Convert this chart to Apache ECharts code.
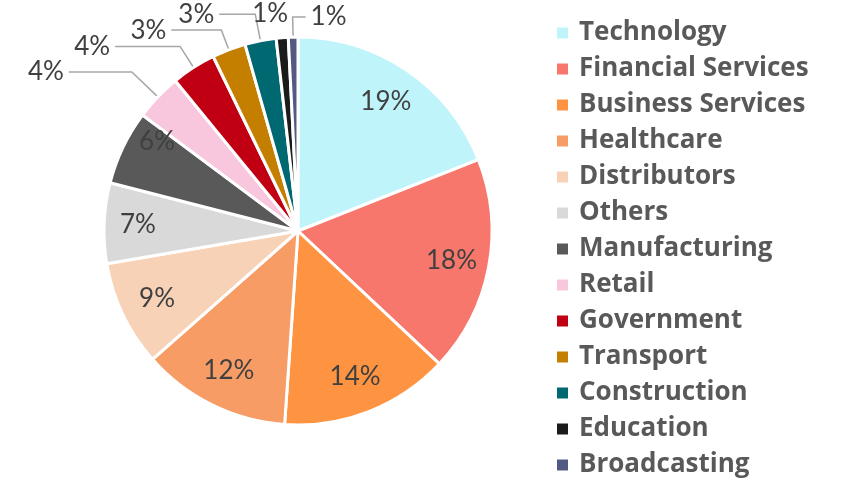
<!DOCTYPE html>
<html><head><meta charset="utf-8">
<script src="https://cdn.jsdelivr.net/npm/echarts@6/dist/echarts.min.js"></script>
<style>html,body{margin:0;padding:0;background:#fff}#c{width:841px;height:480px}</style>
</head><body><div id="c"></div>
<script>
const categories = ['Technology','Financial Services','Business Services','Healthcare','Distributors','Others','Manufacturing','Retail','Government','Transport','Construction','Education','Broadcasting'];
const values = [19.0,18.0,14.1,12.4,8.8,6.7,6.2,3.9,3.7,2.8,2.6,1.0,0.8];
const colors = ['#BFF4FB','#F7776C','#FE9442','#F79C64','#F7D2B6','#D9D9D9','#595959','#F8C6DD','#C00012','#C47F00','#006870','#1B1B1B','#525A84'];
const insideCount = 7;
// leader line lengths for the outside labels (Retail .. Broadcasting)
const lineLen1 = [36,25,21,27,24,20];
const lineLen2 = [63,65,50,36,0,13];

const chart = echarts.init(document.getElementById('c'), null, {renderer:'canvas'});
const R = 194;
const cx = 298, cy = 231;
const fmt = p => Math.round(p.percent) + '%';
const mainData = categories.map((n,i)=>{
  const o = {name:n, value:values[i], itemStyle:{color:colors[i]}};
  if (i < insideCount) { o.label = {show:false}; o.labelLine = {show:false}; }
  else {
    const k = i - insideCount;
    o.label = {show:true};
    o.labelLine = {show: n !== 'Education', length: lineLen1[k], length2: lineLen2[k]};
  }
  return o;
});
const labelData = categories.map((n,i)=>({
  name:n, value:values[i],
  itemStyle:{color:'rgba(0,0,0,0)'},
  label:{show: i < insideCount}
}));
chart.setOption({
  animation:false,
  legend:{
    orient:'vertical', left:555, top:20, padding:0,
    icon:'rect', itemWidth:13, itemHeight:13, itemGap:10,
    data:categories,
    selectedMode:false,
    textStyle:{fontFamily:'Open Sans', fontWeight:'bold', fontSize:26, color:'#595959', lineHeight:26, padding:[0,0,0,5]}
  },
  series:[
    {
      type:'pie', center:[cx,cy], radius:[0,R], startAngle:90, clockwise:true,
      avoidLabelOverlap:false,
      data:mainData,
      itemStyle:{borderColor:'#fff', borderWidth:3},
      label:{position:'outside', fontFamily:'Lato', fontSize:26, color:'#404040', formatter:fmt},
      labelLine:{lineStyle:{color:'#A6A6A6', width:1.5}, smooth:false},
      labelLayout: function(params){
        if (params.dataIndex === 11) return {dx: 13};
        if (params.dataIndex === 12 && params.labelLinePoints) {
          const pts = params.labelLinePoints;
          const p1 = pts[1], p2 = pts[2];
          const np2 = [p1[0] + (p1[0] - p2[0]), p2[1]];
          return {labelLinePoints:[pts[0], p1, np2], x: np2[0] + 5, y: np2[1], align:'left', verticalAlign:'middle'};
        }
        return {};
      },
      emphasis:{disabled:true},
      silent:true
    },
    {
      type:'pie', center:[cx,cy], radius:[0,R*1.58], startAngle:90, clockwise:true,
      data:labelData,
      label:{position:'inside', fontFamily:'Lato', fontSize:26, color:'#404040', formatter:fmt},
      labelLine:{show:false},
      labelLayout: function(params){
        if (params.dataIndex === 6) return {dx: 0, dy: -22};
        if (params.dataIndex === 5) return {dx: -4};
        return {};
      },
      emphasis:{disabled:true},
      silent:true, z:3
    }
  ]
});
</script></body></html>
